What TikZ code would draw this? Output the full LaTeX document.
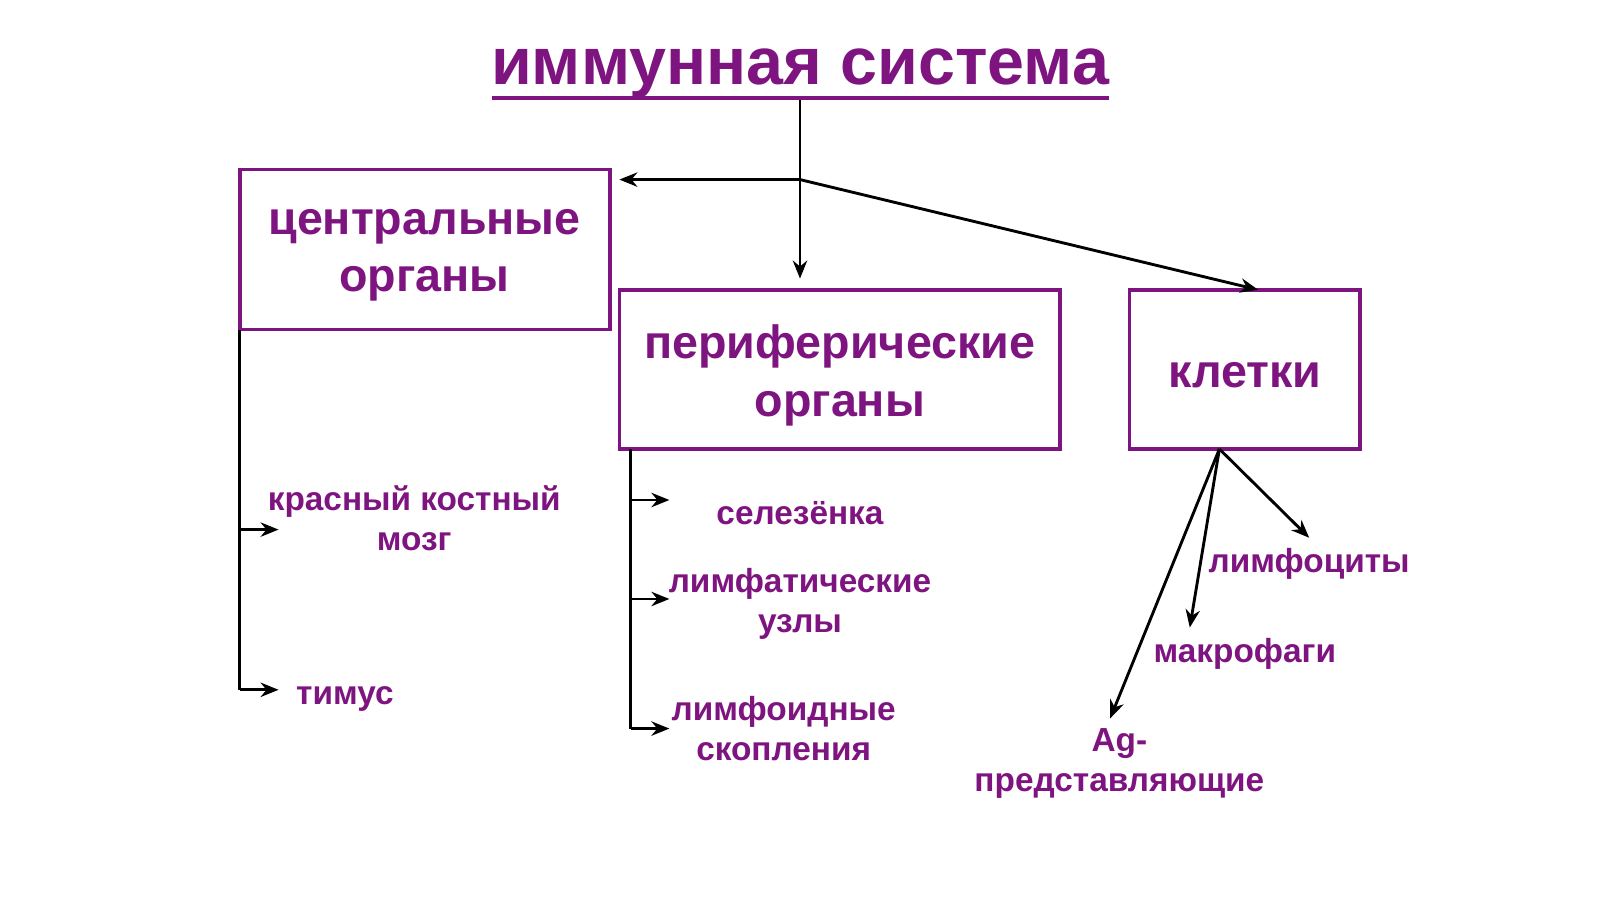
\documentclass[tikz,border=0pt]{standalone}
\usepackage{fontspec}
\setmainfont{Liberation Sans}
\usetikzlibrary{arrows.meta}
\definecolor{pur}{HTML}{7E1480}
\begin{document}
\begin{tikzpicture}[x=0.01cm,y=-0.01cm,
  box/.style={draw=pur,line width=1.0pt,inner sep=0pt},
  bt/.style={text=pur,font=\fontsize{13}{16}\selectfont\bfseries,align=center},
  lt/.style={text=pur,font=\fontsize{9.3}{11.2}\selectfont\bfseries,align=center},
  ln/.style={line width=0.8pt,black},
  ar/.style={ln,-{Stealth[length=5pt,width=4pt]}}]
\useasboundingbox (0,0) rectangle (1568,881);
\node[text=pur,font=\fontsize{18.5}{22}\selectfont\bfseries,inner sep=0pt] (title) at (784,72) {иммунная система};
\draw[pur,line width=1.2pt] (482,96) -- (1087,96);
\draw[box] (235,166) rectangle (598,323);
\node[bt] (c) at (416,250) {центральные\\органы};
\draw[box] (607,284) rectangle (1039,440);
\node[bt] (p) at (823,368) {периферические\\органы};
\draw[box] (1107,284) rectangle (1333,440);
\node[bt] (k) at (1220,368) {клетки};
\coordinate (t0) at (784,98);
\coordinate (j) at (784,176);
\coordinate (cL) at (607,176);
\coordinate (pT) at (784,273);
\coordinate (kT) at (1233,284);
\draw[ln] (t0) -- (j);
\draw[ar] (j) -- (cL);
\draw[ar] (j) -- (pT);
\draw[ar] (j) -- (kT);
\node[lt] (kkm) at (406,508) {красный костный\\мозг};
\node[lt] (tim) at (338,685) {тимус};
\coordinate (c0) at (235,323);
\coordinate (c1) at (235,519);
\coordinate (c2) at (235,676);
\coordinate (c1e) at (273,519);
\coordinate (c2e) at (273,676);
\draw[ln] (c0) -- (c2);
\draw[ar] (c1) -- (c1e);
\draw[ar] (c2) -- (c2e);
\node[lt] (sel) at (784,503) {селезёнка};
\node[lt] (lu) at (784,592) {лимфатические\\узлы};
\node[lt] (ls) at (768,714) {лимфоидные\\скопления};
\coordinate (p0) at (618,440);
\coordinate (p1) at (618,490);
\coordinate (p2) at (618,587);
\coordinate (p3) at (618,714);
\draw[ln] (p0) -- (p3);
\draw[ar] (p1) -- (656,490);
\draw[ar] (p2) -- (656,587);
\draw[ar] (p3) -- (656,714);
\node[lt] (lf) at (1283,553) {лимфоциты};
\node[lt] (mf) at (1220,641) {макрофаги};
\node[lt] (ag) at (1097,748) {Ag-\\представляющие};
\coordinate (k0) at (1195,440);
\draw[ar] (k0) -- (1283,527);
\draw[ar] (k0) -- (1166,615);
\draw[ar] (k0) -- (1088,704);
\end{tikzpicture}
\end{document}
